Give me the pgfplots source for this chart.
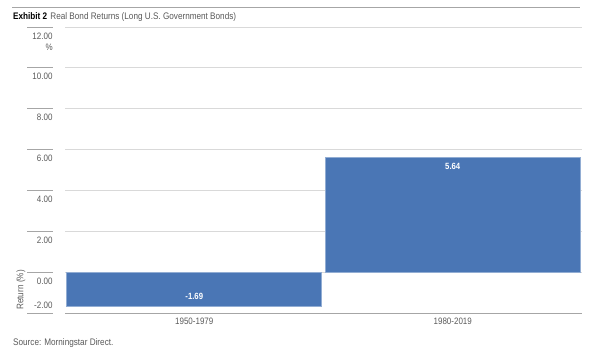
\documentclass[border=0pt]{standalone}
\usepackage{pgfplots}
\pgfplotsset{compat=1.18}
\usepackage{fontspec}
\setmainfont{Liberation Sans}[FakeStretch=0.86]
\definecolor{barblue}{HTML}{4A76B5}
\definecolor{txtgray}{HTML}{595959}
\definecolor{gridgray}{HTML}{D9D9D9}
\definecolor{axgray}{HTML}{A6A6A6}
\begin{document}
\begin{tikzpicture}
\useasboundingbox (0pt,0pt) rectangle (607pt,-358pt);
\draw[axgray,line width=1pt] (12pt,-8pt) -- (580pt,-8pt);
\node[anchor=west,inner sep=0pt,font=\fontsize{9.5}{11}\selectfont] at (13pt,-17pt) {\textbf{Exhibit 2}\,\,\textcolor{txtgray}{Real Bond Returns (Long U.S. Government Bonds)}};
\begin{axis}[
  at={(65pt,-313pt)}, anchor=south west,
  scale only axis, width=517pt, height=286pt,
  ymin=-2, ymax=12, xmin=-0.5, xmax=1.5,
  ytick={0,2,...,12},
  extra y ticks={-2},
  extra y tick style={yticklabel style={anchor=south east, yshift=3pt}},
  /pgf/number format/fixed,
  /pgf/number format/fixed zerofill,
  /pgf/number format/precision=2,
  /pgf/number format/assume math mode=true,
  yticklabel style={font=\fontsize{9.3}{10}\selectfont, text=txtgray, anchor=north east, xshift=-9pt, yshift=-2pt},
  xtick={0,1}, xticklabels={1950-1979,1980-2019},
  xticklabel style={font=\fontsize{9.3}{10}\selectfont, text=txtgray, yshift=-1pt},
  major tick length=0pt,
  axis line style={draw=none},
  ymajorgrids, grid style={gridgray,line width=0.8pt},
  ybar, bar width=255pt, bar shift=0pt,
  point meta=explicit symbolic,
  clip=false,
]
\addplot[fill=barblue, draw=barblue!60!white, line width=0.6pt,
  nodes near coords,
  every node near coord/.style={font=\bfseries\fontsize{9}{10}\selectfont, text=white, anchor=north, yshift=-3pt}]
  coordinates {(1,5.64)[5.64]};
\addplot[fill=barblue, draw=barblue!60!white, line width=0.6pt,
  nodes near coords,
  every node near coord/.style={font=\bfseries\fontsize{9}{10}\selectfont, text=white, anchor=south, yshift=3pt}]
  coordinates {(0,-1.69)[-1.69]};
\pgfplotsinvokeforeach{-2,0,2,4,6,8,10,12}{
  \draw[axgray,line width=0.8pt] ([xshift=-38pt]axis cs:-0.5,#1) -- ([xshift=-12pt]axis cs:-0.5,#1);
}
\draw[axgray,line width=1pt] (axis cs:-0.5,-2) -- (axis cs:1.5,-2);
\end{axis}
\node[anchor=north east,inner sep=0pt,font=\fontsize{9.3}{10}\selectfont,text=txtgray] at (53pt,-44pt) {\%};
\node[rotate=90,inner sep=0pt,font=\fontsize{9.5}{10}\selectfont,text=txtgray] at (21pt,-290pt) {Return (\%)};
\node[anchor=west,inner sep=0pt,font=\fontsize{9.5}{10}\selectfont,text=txtgray] at (13pt,-343pt) {Source: Morningstar Direct.};
\end{tikzpicture}
\end{document}
